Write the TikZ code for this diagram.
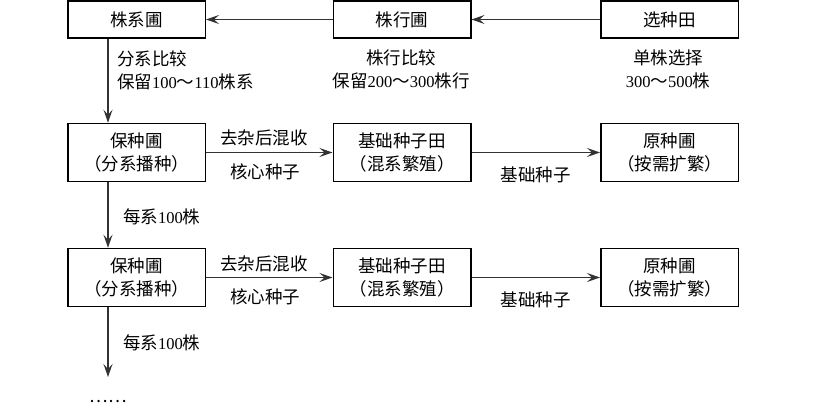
\documentclass[tikz,border=0pt]{standalone}
\usepackage{fontspec}
\setmainfont{Liberation Serif}
\newfontfamily\cjk{Noto Sans CJK SC}
\usetikzlibrary{arrows.meta}
\newcommand\nm[1]{{\rmfamily\fontsize{16.5}{23}\selectfont #1}}
\begin{document}
\begin{tikzpicture}[x=1pt,y=-1pt,
  every node/.style={font=\cjk\fontsize{17.5}{23}\selectfont, inner sep=0pt, text=black},
  box/.style={draw=black, line width=1.5pt, minimum width=137.5pt, align=center},
  boxa/.style={box, minimum height=37pt},
  boxb/.style={box, minimum height=58pt},
  arr/.style={draw=black!80, line width=1.6pt, -{Stealth[length=13pt,width=9pt,inset=5pt]}},
  labl/.style={align=left, anchor=west},
  labc/.style={align=center}]
\useasboundingbox (0,0) rectangle (830,417);
% row 1
\node[boxa] (zx) at (136.5,19.5) {株系圃};
\node[boxa] (zh) at (402,19.5) {株行圃};
\node[boxa] (xz) at (669.5,19.5) {选种田};
% row 2
\node[boxb] (b1) at (136.5,152.5) {保种圃\\（分系播种）};
\node[boxb] (j1) at (402,152.5) {基础种子田\\（混系繁殖）};
\node[boxb] (y1) at (669.5,152.5) {原种圃\\（按需扩繁）};
% row 3
\node[boxb] (b2) at (136.5,277.5) {保种圃\\（分系播种）};
\node[boxb] (j2) at (402,277.5) {基础种子田\\（混系繁殖）};
\node[boxb] (y2) at (669.5,277.5) {原种圃\\（按需扩繁）};
\coordinate (e) at (108,377);
% top row connectors
\draw[arr] (xz) -- (zh);
\draw[arr] (zh) -- (zx);
% labels row 1
\node[labl] (l1) at (117,70.5) {分系比较\\保留\nm{100}～\nm{110}株系};
\node[labc] (l2) at (401,69.5) {株行比较\\保留\nm{200}～\nm{300}株行};
\node[labc] (l3) at (668,69.5) {单株选择\\\nm{300}～\nm{500}株};
% verticals
\draw[arr] ([xshift=-28.5pt]zx.south) -- ([xshift=-28.5pt]b1.north);
\draw[arr] ([xshift=-28.5pt]b1.south) -- ([xshift=-28.5pt]b2.north);
\draw[arr] ([xshift=-28.5pt]b2.south) -- (e);
\node[labl] (m1) at (123,217) {每系\nm{100}株};
\node[labl] (m2) at (123,343) {每系\nm{100}株};
\node (dots) at (108,402) {……};
% row 2 connectors
\draw[arr] (b1) -- node[pos=0.46, yshift=15pt] (a1) {去杂后混收} node[pos=0.47, yshift=-19pt] (c1) {核心种子} (j1);
\draw[arr] (j1) -- node[yshift=-22pt] (d1) {基础种子} (y1);
% row 3 connectors
\draw[arr] (b2) -- node[pos=0.46, yshift=14pt] (a2) {去杂后混收} node[pos=0.47, yshift=-19pt] (c2) {核心种子} (j2);
\draw[arr] (j2) -- node[yshift=-22pt] (d2) {基础种子} (y2);
\end{tikzpicture}
\end{document}
